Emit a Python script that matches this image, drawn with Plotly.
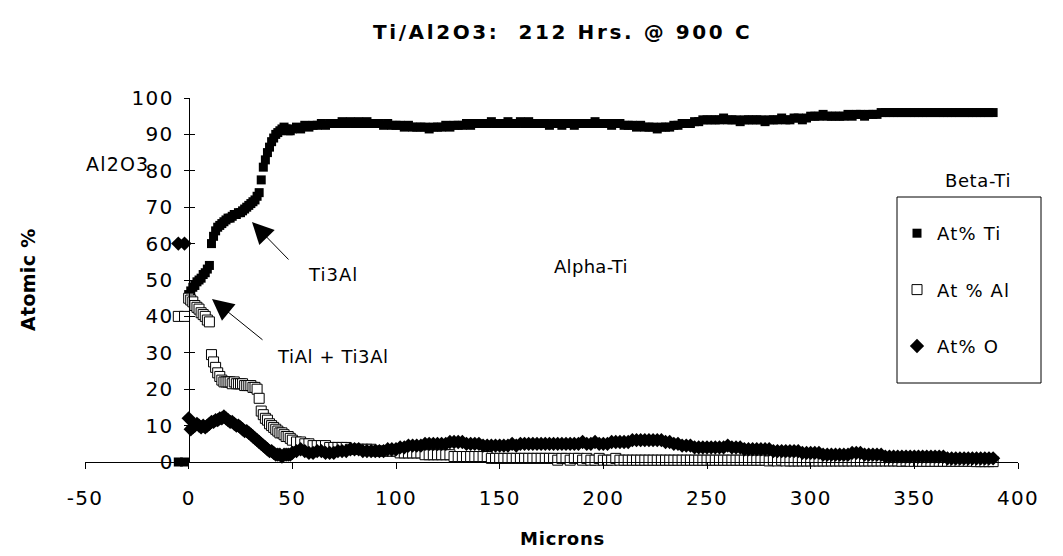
import plotly.graph_objects as go

# Depth profile across the Ti / Al2O3 interface (microns from the interface)
depth = [
    -5, -2,
    0, 1, 2, 3, 4, 5, 6, 7, 8, 9,
    10, 11, 12, 13, 14, 15, 16, 17, 18, 19,
    20, 21, 22, 23, 24, 25, 26, 27, 28, 29,
    30, 31, 32, 33, 34, 35, 36, 37, 38, 39,
    40, 41, 42, 43, 44, 45, 46, 47, 48, 49,
    50, 52, 54, 56, 58, 60, 62, 64, 66, 68,
    70, 72, 74, 76, 78, 80, 82, 84, 86, 88,
    90, 92, 94, 96, 98, 100, 102, 104, 106, 108,
    110, 112, 114, 116, 118, 120, 122, 124, 126, 128,
    130, 132, 134, 136, 138, 140, 142, 144, 146, 148,
    150, 152, 154, 156, 158, 160, 162, 164, 166, 168,
    170, 172, 174, 176, 178, 180, 182, 184, 186, 188,
    190, 192, 194, 196, 198, 200, 202, 204, 206, 208,
    210, 212, 214, 216, 218, 220, 222, 224, 226, 228,
    230, 232, 234, 236, 238, 240, 242, 244, 246, 248,
    250, 252, 254, 256, 258, 260, 262, 264, 266, 268,
    270, 272, 274, 276, 278, 280, 282, 284, 286, 288,
    290, 292, 294, 296, 298, 300, 302, 304, 306, 308,
    310, 312, 314, 316, 318, 320, 322, 324, 326, 328,
    330, 332, 334, 336, 338, 340, 342, 344, 346, 348,
    350, 352, 354, 356, 358, 360, 362, 364, 366, 368,
    370, 372, 374, 376, 378, 380, 382, 384, 386, 388,
]

at_ti = [
    0, 0,
    46, 47, 48, 48.5, 49.5, 50, 50.5, 51.5, 52, 53,
    54, 60, 62, 63.5, 64.5, 65, 65.5, 66, 66.5, 67,
    67, 67.5, 68, 68, 68.5, 68.5, 69, 69.5, 70, 70.5,
    71, 71.5, 72, 73, 74, 77.5, 81, 83, 85, 86.5,
    88, 89, 90, 90.5, 91, 91.5, 92, 91.5, 91, 91,
    91.5, 92, 91.5, 92.5, 92, 92.5, 92.5, 93, 92.5, 93,
    93, 93, 93.5, 93, 93.5, 93, 93.5, 93, 93.5, 93,
    93, 93, 92.5, 93, 92.5, 92.5, 92.5, 92, 92.5, 92,
    92, 92, 92, 91.5, 92, 92, 92, 92.5, 92, 92.5,
    92.5, 92.5, 93, 92.5, 93, 93, 93, 93, 93.5, 93,
    93, 93, 93.5, 93, 93, 93.5, 93, 93.5, 93, 93,
    93, 93, 92.5, 93, 93, 92.5, 93, 93, 92.5, 93,
    93, 93, 93, 93.5, 93, 93, 93, 92.5, 93, 93,
    92.5, 92.5, 92.5, 92, 92.5, 92, 92, 92, 91.5, 92,
    92, 92, 92.5, 92.5, 93, 93, 93, 93.5, 93.5, 94,
    94, 94, 94, 94, 94.5, 94, 94, 94, 93.5, 94,
    94, 94, 94, 94, 93.5, 94, 94, 94, 94.5, 94,
    94, 94.5, 94.5, 94, 94.5, 95, 95, 95, 95.5, 95,
    95, 95, 95, 95, 95.5, 95, 95.5, 95.5, 95, 95.5,
    95.5, 95.5, 96, 96, 96, 96, 96, 96, 96, 96,
    96, 96, 96, 96, 96, 96, 96, 96, 96, 96,
    96, 96, 96, 96, 96, 96, 96, 96, 96, 96,
]

at_al = [
    40, 40,
    45, 44.5, 44, 43, 42.5, 42, 41, 40.5, 40, 39,
    38.5, 29.5, 27.5, 26, 24.5, 23.5, 22.5, 22, 22, 22,
    22, 21.5, 22, 21.5, 21.5, 21.5, 21.5, 21, 21, 21,
    21, 20.5, 20.5, 20, 17.5, 14, 13, 12, 11.5, 10.5,
    10, 9.5, 9, 8.5, 8, 8, 7.5, 7, 7, 6.5,
    6, 5.5, 5.5, 5, 5, 4.5, 4.5, 4.5, 4.5, 4,
    4, 4, 4, 4, 3.5, 3.5, 3.5, 3.5, 3.5, 3.5,
    3, 3, 3, 3, 3, 3, 2.5, 2.5, 2.5, 2.5,
    2.5, 2.5, 2, 2, 2, 2, 2, 2, 2, 1.5,
    1.5, 1.5, 1.5, 1.5, 1.5, 1.5, 1.5, 1.5, 1, 1,
    1, 1, 1, 1, 1, 1, 1, 1, 1, 1,
    1, 1, 1, 1, 0.5, 1, 1, 0.5, 1, 1,
    0.5, 1, 0.5, 0.5, 1, 0.5, 0.5, 0.5, 1, 0.5,
    0.5, 0.5, 0.5, 0.5, 0.5, 0.5, 0.5, 0.5, 0.5, 0.5,
    0.5, 0.5, 0.5, 0.5, 0.5, 0.5, 0.5, 0.5, 0.5, 0.5,
    0.5, 0.5, 0.5, 0.5, 0.5, 0.5, 0.5, 0.5, 0.5, 0.5,
    0.5, 0.5, 0.5, 0.5, 0.5, 0.3, 0.5, 0.3, 0.5, 0.3,
    0.3, 0.3, 0.3, 0.3, 0.3, 0.3, 0.3, 0.3, 0.3, 0.3,
    0.3, 0.3, 0.3, 0.3, 0.3, 0.3, 0.3, 0.3, 0.3, 0.3,
    0.3, 0.3, 0.3, 0.3, 0.3, 0.3, 0.3, 0.2, 0.3, 0.2,
    0.2, 0.2, 0.2, 0.2, 0.2, 0.2, 0.2, 0.2, 0.2, 0.2,
    0.2, 0.2, 0.2, 0.2, 0.2, 0.1, 0.1, 0.1, 0.1, 0.1,
]

at_o = [
    60, 60,
    12, 9, 9.5, 10, 10.5, 10, 9.5, 10, 9.5, 10,
    10.5, 11, 11, 11.5, 11.5, 12, 12, 12.5, 12, 11.5,
    11, 11, 10.5, 10, 10, 9.5, 9, 8.5, 8.5, 8,
    7.5, 7, 6.5, 6, 5.5, 5, 4.5, 4, 3.5, 3,
    3, 2.5, 2, 2, 2, 1.5, 2, 2, 2, 2,
    2.5, 3, 3.5, 3, 2.5, 2.5, 3, 3, 2.5, 2.5,
    2.5, 3, 3, 3, 3.5, 3.5, 3.5, 3, 3, 3,
    3, 3, 3, 3.5, 3.5, 3.5, 4, 4, 4.5, 4.5,
    4.5, 4.5, 5, 5, 5, 5, 5, 5, 5.5, 5.5,
    5.5, 5.5, 5, 5, 5, 5, 4.5, 4.5, 4.5, 4.5,
    4.5, 4.5, 4.5, 5, 4.5, 5, 5, 5, 5, 5,
    5, 5, 5, 5, 5, 5, 5, 5, 5, 5,
    5.5, 5, 5, 5.5, 5, 5, 5, 5.5, 5.5, 5.5,
    5.5, 5.5, 6, 6, 6, 6, 6, 6, 6, 6,
    5.5, 5.5, 5, 5, 4.5, 4.5, 4.5, 4, 4, 4,
    4, 4, 4, 4, 4, 4.5, 4, 4, 4, 3.5,
    3.5, 3.5, 3.5, 3.5, 3.5, 3.5, 3, 3, 3, 3,
    3, 3, 3, 2.5, 2.5, 2.5, 2.5, 2.5, 2, 2,
    2, 2, 2, 2, 2, 2.5, 2.5, 2.5, 2, 2,
    2, 2, 2, 1.5, 1.5, 1.5, 1.5, 1.5, 1.5, 1.5,
    1.5, 1.5, 1.5, 1.5, 1.5, 1.5, 1.5, 1.5, 1, 1,
    1, 1, 1, 1, 1, 1, 1, 1, 1, 1,
]

x_ticks = [-50, 0, 50, 100, 150, 200, 250, 300, 350, 400]
y_ticks = [0, 10, 20, 30, 40, 50, 60, 70, 80, 90, 100]

series_names = ["At% Ti", "At % Al", "At% O"]

# Page geometry
W, H = 1063, 556
ML, MR, MT, MB = 85, 45, 98, 94
FONT = "DejaVu Sans"
FONT_BOLD = "DejaVu Sans"


def paper_x(px):
    return (px - ML) / (W - ML - MR)


def paper_y(py):
    return (H - MB - py) / (H - MT - MB)


def spaced(text, ls=1.5):
    return f'<span style="letter-spacing:{ls}px">{text}</span>'


fig = go.Figure()

fig.add_trace(go.Scatter(
    x=depth, y=at_ti, mode="markers", name=spaced(series_names[0], 1.2),
    legendgroup="ti", cliponaxis=False,
    marker=dict(symbol="square", size=9, color="black", line=dict(width=0)),
))
fig.add_trace(go.Scatter(
    x=depth, y=at_al, mode="markers", name=spaced(series_names[1], 1.2),
    legendgroup="al", cliponaxis=False,
    marker=dict(symbol="square", size=10, color="white",
                line=dict(color="black", width=1)),
))
fig.add_trace(go.Scatter(
    x=depth, y=at_o, mode="markers", name=spaced(series_names[2], 1.2),
    legendgroup="o", cliponaxis=False,
    marker=dict(symbol="diamond", size=11, color="black", line=dict(width=0)),
))
# carrier for the inward half of the y ticks
fig.add_trace(go.Scatter(x=[None], y=[None], yaxis="y2", showlegend=False,
                         hoverinfo="skip"))

y_axis_pos = (0 - x_ticks[0]) / (x_ticks[-1] - x_ticks[0])

fig.update_layout(
    width=W, height=H,
    margin=dict(l=ML, r=MR, t=MT, b=MB),
    paper_bgcolor="white", plot_bgcolor="white",
    font=dict(family=FONT, size=18, color="black"),
    xaxis=dict(
        range=[x_ticks[0], x_ticks[-1]], tickmode="array",
        tickvals=x_ticks, ticktext=[spaced(str(v), 1.3) for v in x_ticks],
        ticks="outside", ticklen=6, tickwidth=1, tickcolor="black",
        showline=True, linecolor="black", linewidth=1,
        showgrid=False, zeroline=False,
        tickfont=dict(family=FONT, size=20, color="black"),
        ticklabelstandoff=12,
    ),
    yaxis=dict(
        range=[0, 100], tickmode="array",
        tickvals=y_ticks, ticktext=[spaced(str(v), 1.3) for v in y_ticks],
        anchor="free", position=y_axis_pos,
        ticks="outside", ticklen=5, tickwidth=1, tickcolor="black",
        showline=True, linecolor="black", linewidth=1,
        showgrid=False, zeroline=False,
        tickfont=dict(family=FONT, size=20, color="black"),
        ticklabelstandoff=6,
    ),
    yaxis2=dict(
        range=[0, 100], tickmode="array", tickvals=y_ticks,
        overlaying="y", anchor="free", position=y_axis_pos,
        ticks="inside", ticklen=5, tickwidth=1, tickcolor="black",
        showticklabels=False, showline=False, showgrid=False, zeroline=False,
    ),
    showlegend=True,
    legend=dict(
        x=paper_x(897), y=paper_y(215), xanchor="left", yanchor="top",
        bgcolor="rgba(0,0,0,0)", borderwidth=0,
        font=dict(family=FONT, size=18, color="black"),
        tracegroupgap=30, itemsizing="trace",
    ),
)

# legend frame
fig.add_shape(type="rect", xref="paper", yref="paper",
              x0=paper_x(897), x1=paper_x(1041),
              y0=paper_y(383), y1=paper_y(197),
              line=dict(color="black", width=1), fillcolor="rgba(0,0,0,0)")


def label(text, cx, cy, size=18, bold=False, angle=0, ls=1.0, family=FONT):
    t = spaced(text, ls)
    if bold:
        t = f"<b>{t}</b>"
    fig.add_annotation(text=t, x=paper_x(cx), y=paper_y(cy),
                       xref="paper", yref="paper", showarrow=False,
                       xanchor="center", yanchor="middle", textangle=angle,
                       font=dict(family=family, size=size, color="black"))


label("Ti/Al2O3:&nbsp; 212 Hrs. @ 900 C", 562, 32, size=20, bold=True,
      ls=2.6, family=FONT_BOLD)
label("Atomic %", 28, 280, size=19, bold=True, angle=-90, ls=0.3)
label("Microns", 562, 538, size=18, bold=True, ls=0.8)
label("Al2O3", 117, 164, size=19, ls=1.2)
label("Beta-Ti", 978, 180, ls=0.6)
label("Alpha-Ti", 591, 266, ls=0.3)
label("Ti3Al", 333, 274, ls=1.0)
label("TiAl + Ti3Al", 333, 356, ls=0.6)

# phase pointers: (tip, tail) in page pixels
for (tx, ty), (sx, sy) in [((252, 222), (290, 261)), ((212, 299), (264, 341))]:
    fig.add_annotation(text="", x=paper_x(tx), y=paper_y(ty),
                       xref="paper", yref="paper",
                       ax=sx - tx, ay=sy - ty, showarrow=True,
                       arrowhead=2, arrowsize=4.3, arrowwidth=1.0,
                       arrowcolor="black", standoff=0)

fig.write_html("out.html")
